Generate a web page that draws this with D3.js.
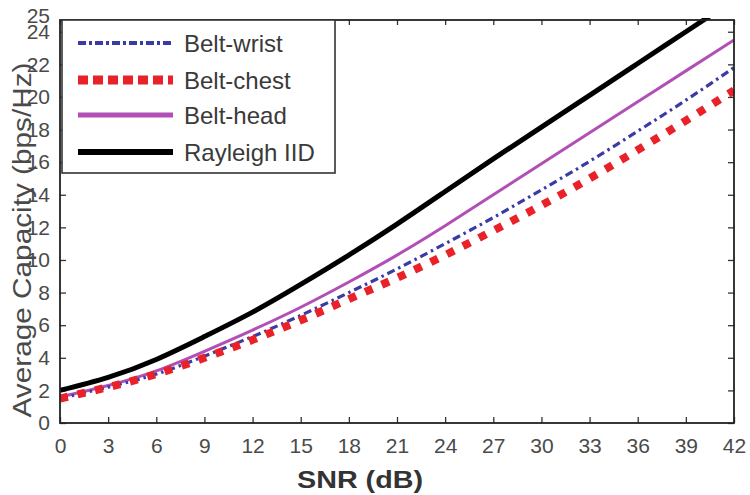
<!DOCTYPE html>
<html><head><meta charset="utf-8">
<script src="https://cdn.jsdelivr.net/npm/d3@7"></script>
<style>body{margin:0;background:#fff}svg{display:block}</style>
</head><body>
<script>
const snr = [0,3,6,9,12,15,18,21,24,27,30,33,36,39,42];
const beltWrist = [1.5,2.2,3.0,4.1,5.3,6.6,8.0,9.45,11.0,12.6,14.3,16.05,17.9,19.8,21.8];
const beltChest = [1.5,2.2,3.0,4.0,5.1,6.3,7.6,8.9,10.3,11.8,13.35,15.0,16.75,18.55,20.4];
const beltHead  = [1.6,2.3,3.2,4.4,5.7,7.1,8.65,10.3,12.1,14.0,15.9,17.8,19.7,21.6,23.5];
const rayleigh  = [2.0,2.8,3.9,5.3,6.8,8.5,10.3,12.2,14.2,16.2,18.15,20.1,22.05,24.0,25.95];
const xTicks = [0,3,6,9,12,15,18,21,24,27,30,33,36,39,42];
const yTicks = [0,2,4,6,8,10,12,14,16,18,20,22,24];
const yExtraLabel = [25];
const seriesNames = ["Belt-wrist","Belt-chest","Belt-head","Rayleigh IID"];

const W=750,H=495, L=60, R=734, T=20, B=423;
const svg=d3.select("body").append("svg").attr("width",W).attr("height",H);
const x=d3.scaleLinear().domain([0,42]).range([L,R]);
const y=d3.scaleLinear().domain([0,24.72]).range([B,T]);

const styles = {
  "Belt-wrist":{color:"#3b3ba8",w:3.2,dash:"8,4,2.5,4",lw:4,ldash:"8,3,3,3"},
  "Belt-chest":{color:"#e82228",w:8,dash:"8,10",lw:9,ldash:"10,5"},
  "Belt-head":{color:"#b24fb6",w:3,dash:null,lw:5,ldash:null},
  "Rayleigh IID":{color:"#000",w:5,dash:null,lw:6,ldash:null}
};
const dataBy = {"Belt-wrist":beltWrist,"Belt-chest":beltChest,"Belt-head":beltHead,"Rayleigh IID":rayleigh};

svg.append("clipPath").attr("id","clip").append("rect")
  .attr("x",L).attr("y",T-2).attr("width",R-L).attr("height",B-T+2);

const fontAx = "'Liberation Sans', Arial, sans-serif";
const gx=svg.append("g").attr("transform",`translate(0,${B})`)
  .call(d3.axisBottom(x).tickValues(xTicks).tickSizeInner(-6).tickSizeOuter(0).tickPadding(15));
const gxt=svg.append("g").attr("transform",`translate(0,${T})`)
  .call(d3.axisTop(x).tickValues(xTicks).tickSizeInner(-5).tickSizeOuter(0).tickFormat(""));
const gy=svg.append("g").attr("transform",`translate(${L},0)`)
  .call(d3.axisLeft(y).tickValues(yTicks.concat(yExtraLabel)).tickSizeInner(-6).tickSizeOuter(0).tickPadding(10));
const gyr=svg.append("g").attr("transform",`translate(${R},0)`)
  .call(d3.axisRight(y).tickValues(yTicks).tickSizeInner(-6).tickSizeOuter(0).tickFormat(""));
[gx,gxt,gy,gyr].forEach(g=>{
  g.select(".domain").remove();
  g.selectAll("line").attr("stroke","#333").attr("stroke-width",1.3);
  g.selectAll("text").attr("fill","#4a4a4a").style("font-family",fontAx).style("font-size","21px");
});
gy.selectAll(".tick").filter(d=>d===25).select("line").remove();

const order=["Belt-head","Belt-wrist","Belt-chest","Rayleigh IID"];
const line=d3.line().x((d,i)=>x(snr[i])).y(d=>y(d)).curve(d3.curveNatural);
const gl=svg.append("g").attr("clip-path","url(#clip)");
order.forEach(n=>{
  const s=styles[n];
  gl.append("path").datum(dataBy[n]).attr("d",line)
    .attr("fill","none").attr("stroke",s.color).attr("stroke-width",s.w)
    .attr("stroke-dasharray",s.dash).attr("stroke-linecap","butt");
});

svg.append("rect").attr("x",L).attr("y",T).attr("width",R-L).attr("height",B-T)
  .attr("fill","none").attr("stroke","#222").attr("stroke-width",1.8);

const lg=svg.append("g");
lg.append("rect").attr("x",62).attr("y",T).attr("width",273).attr("height",153)
  .attr("fill","#fff").attr("stroke","#333").attr("stroke-width",1.6);
const ly=[43,80,115,152];
seriesNames.forEach((n,i)=>{
  const s=styles[n];
  lg.append("line").attr("x1",78).attr("x2",173).attr("y1",ly[i]).attr("y2",ly[i])
    .attr("stroke",s.color).attr("stroke-width",s.lw).attr("stroke-dasharray",s.ldash);
  lg.append("text").attr("x",184).attr("y",ly[i]).attr("dy","0.36em")
    .attr("fill","#3a3a3a").style("font-family",fontAx).style("font-size","24px").text(n);
});

svg.append("text").attr("transform","translate(31,240) rotate(-90)")
  .attr("text-anchor","middle").attr("fill","#4a4a4a")
  .style("font-family",fontAx).style("font-size","26px")
  .attr("textLength",355).attr("lengthAdjust","spacingAndGlyphs")
  .text("Average Capacity (bps/Hz)");
svg.append("text").attr("x",360).attr("y",488).attr("text-anchor","middle")
  .attr("fill","#333").style("font-family",fontAx).style("font-size","23px").style("font-weight","bold")
  .attr("textLength",126).attr("lengthAdjust","spacingAndGlyphs")
  .text("SNR (dB)");
</script>
</body></html>
